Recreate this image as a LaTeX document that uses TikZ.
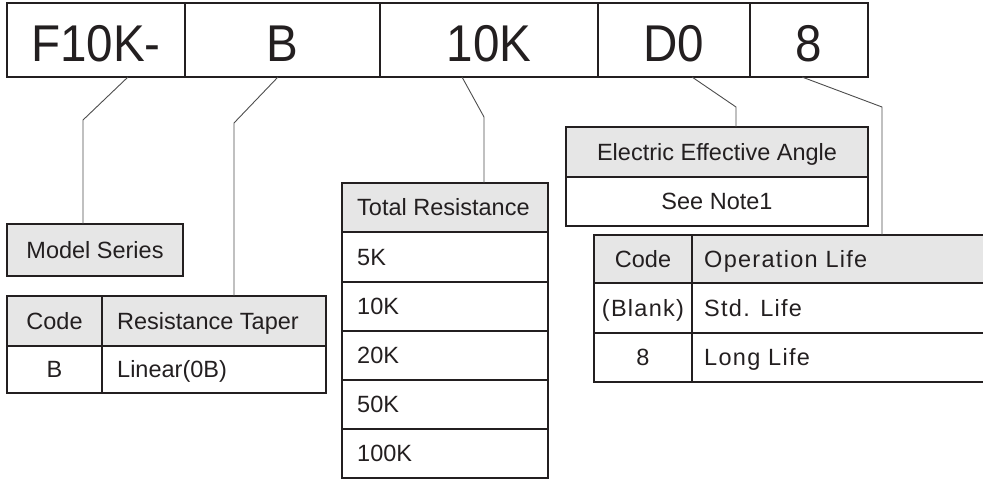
\documentclass[tikz,border=0pt]{standalone}
\usepackage{fontspec}
\usepackage{graphicx}
\setmainfont{Liberation Sans}
\newfontfamily\spacedfont[LetterSpace=5.5]{Liberation Sans}
\definecolor{ink}{HTML}{231F20}
\definecolor{hdrgray}{HTML}{E6E6E6}
\definecolor{conngray}{HTML}{4D4D4D}
\newcommand\cellxy[7]{\node[#6, minimum width={#4pt-#2pt}, minimum height={#5pt-#3pt}] (#1) at (#2,#3) {#7};}
\newcommand\bartxt[1]{\scalebox{0.92}[1]{#1}}
\begin{document}
\begin{tikzpicture}[x=1pt,y=-1pt,
  cell/.style={draw=ink, line width=1.8pt, inner sep=0pt, outer sep=0pt, anchor=north west, text=ink,
    font=\fontsize{23.5}{28}\selectfont, text height=16.8pt, text depth=0pt},
  hcell/.style={cell, fill=hdrgray},
  barcell/.style={draw=ink, line width=2.2pt, inner sep=0pt, outer sep=0pt, anchor=north west, text=ink,
    font=\fontsize{51.7}{60}\selectfont, text height=43pt, text depth=0pt},
  lbl/.style={anchor=west, inner sep=0pt, text=ink, font=\fontsize{23.5}{28}\selectfont,
    text height=16.8pt, text depth=0pt},
  conn/.style={draw=conngray, line width=0.9pt}]
\useasboundingbox (0,0) rectangle (983,480);

% top code bar
\cellxy{b1}{7}{3}{185}{77}{barcell}{\bartxt{F10K-}}
\cellxy{b2}{185}{3}{380}{77}{barcell}{\bartxt{B}}
\cellxy{b3}{380}{3}{598}{77}{barcell}{\bartxt{10K}}
\cellxy{b4}{598}{3}{750}{77}{barcell}{\bartxt{D0}}
\cellxy{b5}{750}{3}{868}{77}{barcell}{\bartxt{8}}

% Model Series
\cellxy{ms}{7}{224}{183}{276}{hcell}{Model Series}

% Resistance Taper table
\cellxy{rtc}{7}{296}{102}{346}{hcell}{Code}
\cellxy{rth}{102}{296}{326}{346}{hcell}{}
\node[lbl] (rthl) at (117,321) {Resistance Taper};
\cellxy{rtb}{7}{346}{102}{393}{cell}{B}
\cellxy{rtl}{102}{346}{326}{393}{cell}{}
\node[lbl] (rtll) at (117,369.5) {Linear(0B)};

% Total Resistance table
\cellxy{tr}{342}{183}{548}{232}{hcell}{}
\node[lbl] (trl) at (357,207.5) {Total Resistance};
\cellxy{tr1}{342}{232}{548}{282}{cell}{}
\node[lbl] at (357,257) {5K};
\cellxy{tr2}{342}{282}{548}{331}{cell}{}
\node[lbl] at (357,306.5) {10K};
\cellxy{tr3}{342}{331}{548}{380}{cell}{}
\node[lbl] at (357,355.5) {20K};
\cellxy{tr4}{342}{380}{548}{429}{cell}{}
\node[lbl] at (357,404.5) {50K};
\cellxy{tr5}{342}{429}{548}{478}{cell}{}
\node[lbl] at (357,453.5) {100K};

% Electric Effective Angle
\cellxy{ea}{566}{127}{868}{177}{hcell}{Electric Effective Angle}
\cellxy{ean}{566}{177}{868}{226}{cell}{See Note1}

% Operation Life table
\cellxy{olc}{594}{235}{692}{283}{hcell}{Code}
\cellxy{ol}{692}{235}{988}{283}{hcell}{}
\node[lbl] at (704,259) {\spacedfont Operation Life};
\cellxy{olc1}{594}{283}{692}{333}{cell}{\spacedfont (Blank)}
\cellxy{ol1}{692}{283}{988}{333}{cell}{}
\node[lbl] at (704,308) {\spacedfont Std. Life};
\cellxy{olc2}{594}{333}{692}{382}{cell}{8}
\cellxy{ol2}{692}{333}{988}{382}{cell}{}
\node[lbl] at (704,357.5) {\spacedfont Long Life};

% connectors
\coordinate (c1) at (128,77);  \coordinate (k1) at (83,120);
\coordinate (c2) at (278,77);  \coordinate (k2) at (234,123);
\coordinate (c3) at (462,77);  \coordinate (k3) at (484,117);
\coordinate (c4) at (692,77);  \coordinate (k4) at (736,107);
\coordinate (c5) at (802,77);  \coordinate (k5) at (882,107);
\draw[conn] (c1) -- (k1) -- (k1 |- ms.north);
\draw[conn] (c2) -- (k2) -- (k2 |- rth.north);
\draw[conn] (c3) -- (k3) -- (k3 |- tr.north);
\draw[conn] (c4) -- (k4) -- (k4 |- ea.north);
\draw[conn] (c5) -- (k5) -- (k5 |- ol.north);
\end{tikzpicture}
\end{document}
